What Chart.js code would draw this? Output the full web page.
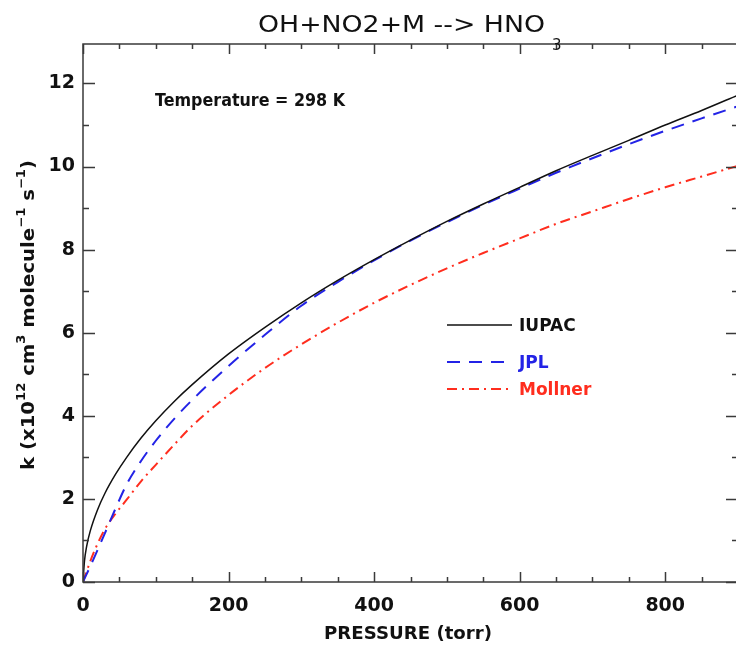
<!DOCTYPE html>
<html><head><meta charset="utf-8">
<script src="https://cdn.jsdelivr.net/npm/chart.js@4/dist/chart.umd.min.js"></script>
<style>
html,body{margin:0;padding:0;background:#fff;overflow:hidden;width:736px;height:648px}
#wrap{width:740px;height:648px;position:relative;overflow:hidden}
</style>
</head><body><div id="wrap"><canvas id="c" width="740" height="648"></canvas></div>
<script>
// ---- data ----
const pressure = [0, 2, 5, 10, 20, 30, 45, 60, 80, 100, 125, 150, 200, 250, 300, 350, 400, 450, 500, 550, 600, 650, 700, 750, 800, 850, 900];
const iupac    = [0, 0.5, 0.86, 1.23, 1.74, 2.13, 2.6, 3.0, 3.47, 3.88, 4.34, 4.75, 5.49, 6.13, 6.72, 7.26, 7.76, 8.23, 8.68, 9.1, 9.5, 9.9, 10.27, 10.63, 11.0, 11.35, 11.72];
const jpl      = [0, 0.08, 0.19, 0.38, 0.77, 1.17, 1.78, 2.35, 2.92, 3.4, 3.92, 4.38, 5.2, 5.95, 6.65, 7.22, 7.74, 8.22, 8.66, 9.08, 9.47, 9.85, 10.2, 10.54, 10.86, 11.16, 11.45];
const mollner  = [0, 0.1, 0.25, 0.5, 0.92, 1.27, 1.65, 1.98, 2.43, 2.82, 3.3, 3.76, 4.5, 5.15, 5.72, 6.24, 6.72, 7.15, 7.55, 7.92, 8.27, 8.62, 8.92, 9.22, 9.5, 9.76, 10.02];
const seriesNames = ['IUPAC', 'JPL', 'Mollner'];
const xTickLabels = [0, 200, 400, 600, 800];
const yTickLabels = [0, 2, 4, 6, 8, 10, 12];
const titleMain = 'OH+NO2+M --> HNO';
const titleSub = '3';
const xTitle = 'PRESSURE (torr)';
const noteText = 'Temperature = 298 K';

const COLORS = ['#111111', '#2323e6', '#ff2d1e'];
const DASHES = [[], [13, 9], [10, 5, 2, 5]];
const FONT = '"DejaVu Sans", "Liberation Sans", sans-serif';

function pts(ys) { return pressure.map((p, i) => ({x: p, y: ys[i]})); }
const allSeries = [iupac, jpl, mollner];

function fitText(ctx, text, x, y, font, color, width, align) {
  ctx.save();
  ctx.font = font;
  ctx.fillStyle = color;
  ctx.textBaseline = 'alphabetic';
  const w = ctx.measureText(text).width;
  const s = width ? width / w : 1;
  let x0 = x;
  if (align === 'center') x0 = x - w * s / 2;
  else if (align === 'right') x0 = x - w * s;
  ctx.translate(x0, y);
  ctx.scale(s, 1);
  ctx.textAlign = 'left';
  ctx.fillText(text, 0, 0);
  ctx.restore();
  return w * s;
}

const decor = {
  id: 'decor',
  afterDraw(chart) {
    const ctx = chart.ctx, a = chart.chartArea;
    const xs = chart.scales.x, ys = chart.scales.y;
    ctx.save();
    ctx.strokeStyle = '#3a3a3a';
    ctx.lineWidth = 1.5;
    ctx.strokeRect(a.left, a.top, a.right - a.left, a.bottom - a.top);
    ctx.beginPath();
    for (let v = 0; v <= 900; v += 50) {
      const px = Math.round(xs.getPixelForValue(v)) + 0.5;
      const len = v % 200 === 0 ? 10 : 5;
      ctx.moveTo(px, a.bottom); ctx.lineTo(px, a.bottom - len);
      ctx.moveTo(px, a.top); ctx.lineTo(px, a.top + len);
    }
    for (let v = 0; v <= 12; v += 1) {
      const py = Math.round(ys.getPixelForValue(v)) + 0.5;
      const len = v % 2 === 0 ? 12 : 6;
      ctx.moveTo(a.left, py); ctx.lineTo(a.left + len, py);
      ctx.moveTo(a.right, py); ctx.lineTo(a.right - len, py);
    }
    ctx.stroke();
    ctx.restore();

    // title
    const tw = fitText(ctx, titleMain, 258, 32, '23px ' + FONT, '#111', 287, 'left');
    fitText(ctx, titleSub, 258 + tw + 7, 50, '15px ' + FONT, '#111', null, 'left');
    // x title
    fitText(ctx, xTitle, 408, 639, 'bold 18px ' + FONT, '#111', 168, 'center');
    // note
    fitText(ctx, noteText, 155, 106, 'bold 17px ' + FONT, '#111', 190, 'left');

    // y title (rotated, with superscripts)
    ctx.save();
    ctx.translate(34, 315);
    ctx.rotate(-Math.PI / 2);
    const segs = [['k (x10', 0], ['12', 1], [' cm', 0], ['3', 1], [' molecule', 0], ['\u22121', 1], [' s', 0], ['\u22121', 1], [')', 0]];
    const big = 'bold 18px ' + FONT, small = 'bold 12px ' + FONT;
    let total = 0;
    segs.forEach(s => { ctx.font = s[1] ? small : big; total += ctx.measureText(s[0]).width; });
    const target = 310, sc = target / total;
    ctx.scale(sc, 1);
    let cx = -total / 2;
    ctx.fillStyle = '#111';
    ctx.textBaseline = 'alphabetic';
    segs.forEach(s => {
      ctx.font = s[1] ? small : big;
      ctx.fillText(s[0], cx, s[1] ? -9 : 0);
      cx += ctx.measureText(s[0]).width;
    });
    ctx.restore();

    // legend
    const ly = [325, 362, 389];
    seriesNames.forEach((n, i) => {
      ctx.save();
      ctx.strokeStyle = COLORS[i];
      ctx.lineWidth = i === 0 ? 1.5 : 2;
      ctx.setLineDash(DASHES[i]);
      ctx.beginPath();
      ctx.moveTo(447, ly[i]); ctx.lineTo(512, ly[i]);
      ctx.stroke();
      ctx.restore();
      fitText(ctx, n, 519, ly[i] + 6, 'bold 17px ' + FONT, COLORS[i], null, 'left');
    });
  }
};

new Chart(document.getElementById('c'), {
  type: 'line',
  data: {
    datasets: allSeries.map((s, i) => ({
      label: seriesNames[i],
      data: pts(s),
      borderColor: COLORS[i],
      borderWidth: i === 0 ? 1.5 : 2,
      borderDash: DASHES[i],
      pointRadius: 0,
      fill: false,
      cubicInterpolationMode: 'monotone'
    }))
  },
  options: {
    responsive: false,
    animation: false,
    devicePixelRatio: 1,
    layout: { padding: { top: 44, right: 2, left: 0, bottom: 0 } },
    plugins: { legend: { display: false }, title: { display: false }, tooltip: { enabled: false } },
    scales: {
      x: {
        type: 'linear', min: 0, max: 900,
        afterFit(s) { s.height = 66; },
        grid: { display: false, drawTicks: false }, border: { display: false },
        ticks: {
          stepSize: 200, includeBounds: false, padding: 13, color: '#111',
          font: { family: FONT, size: 19, weight: 'bold' },
          callback: v => xTickLabels.includes(v) ? String(v) : ''
        }
      },
      y: {
        type: 'linear', min: 0, max: 12.95,
        afterFit(s) { s.width = 83; },
        grid: { display: false, drawTicks: false }, border: { display: false },
        ticks: {
          stepSize: 2, includeBounds: false, padding: 8, color: '#111',
          font: { family: FONT, size: 19, weight: 'bold' },
          callback: v => yTickLabels.includes(v) ? String(v) : ''
        }
      }
    }
  },
  plugins: [decor]
});
</script>
</body></html>
